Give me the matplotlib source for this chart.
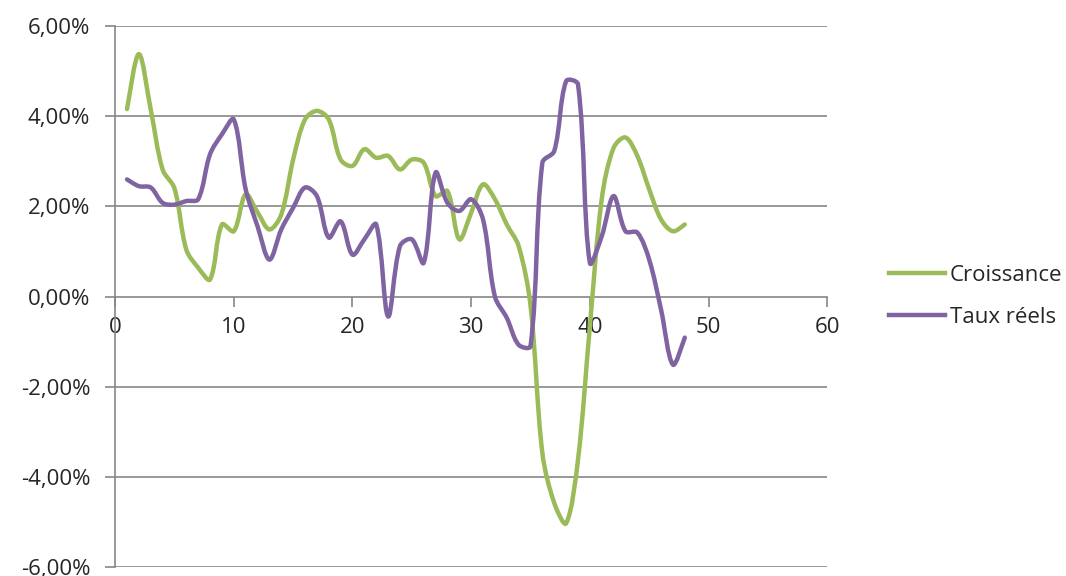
import matplotlib

matplotlib.use("Agg")
import matplotlib.pyplot as plt
import numpy as np
from matplotlib.path import Path
from matplotlib.patches import PathPatch
from matplotlib.lines import Line2D
from matplotlib.ticker import FuncFormatter

periods = list(range(1, 49))
croissance = [4.16, 5.38, 4.15, 2.82, 2.40, 1.04, 0.64, 0.38, 1.60, 1.45,
              2.27, 1.87, 1.49, 1.82, 3.04, 3.93, 4.12, 3.93, 3.04, 2.90,
              3.27, 3.08, 3.12, 2.82, 3.04, 2.97, 2.23, 2.34, 1.27, 1.86,
              2.49, 2.16, 1.60, 1.12, -0.20, -3.47, -4.58, -5.03, -3.62, -0.66,
              2.16, 3.30, 3.53, 3.12, 2.38, 1.71, 1.45, 1.60]
taux_reels = [2.60, 2.45, 2.42, 2.08, 2.04, 2.12, 2.16, 3.16, 3.60, 3.93,
              2.38, 1.56, 0.82, 1.49, 1.97, 2.42, 2.23, 1.31, 1.67, 0.93,
              1.27, 1.60, -0.44, 1.12, 1.27, 0.75, 2.75, 2.08, 1.90, 2.16,
              1.71, 0.00, -0.47, -1.07, -1.10, 2.97, 3.23, 4.78, 4.71, 0.75,
              1.34, 2.23, 1.45, 1.42, 0.82, -0.29, -1.51, -0.91]
series_names = ["Croissance", "Taux réels"]
series_colors = ["#9BBB59", "#8064A2"]

x_ticks = [0, 10, 20, 30, 40, 50, 60]
y_ticks = [-6, -4, -2, 0, 2, 4, 6]
XLIM = (0, 60)
YLIM = (-6, 6)

plt.rcParams["font.family"] = ["Open Sans", "DejaVu Sans"]
GRID = "#868686"
TEXT = "#262626"

FIG_W, FIG_H = 10.66, 5.76
AX_RECT = [0.108, 0.0156, 0.668, 0.939]


def smooth_path(xs, ys, sx, sy):
    """Excel-like smoothed line: cubic Beziers whose handles are scaled by
    the neighbouring segment lengths (measured on screen), so steep jumps
    do not overshoot."""
    pts = np.column_stack([xs, ys]).astype(float)
    scr = pts * [sx, sy]
    n = len(pts)

    def dist(i, j):
        return float(np.hypot(*(scr[j] - scr[i])))

    verts = [pts[0]]
    codes = [Path.MOVETO]
    for i in range(n - 1):
        i0 = max(i - 1, 0)
        i3 = min(i + 2, n - 1)
        d01 = dist(i0, i)
        d12 = dist(i, i + 1)
        d23 = dist(i + 1, i3)
        f1 = d12 / (d01 + d12) if d01 > 0 else 0.5
        f2 = d12 / (d12 + d23) if d23 > 0 else 0.5
        c1 = pts[i] + (pts[i + 1] - pts[i0]) * f1 / 3.0
        c2 = pts[i + 1] - (pts[i3] - pts[i]) * f2 / 3.0
        verts += [c1, c2, pts[i + 1]]
        codes += [Path.CURVE4] * 3
    return Path(verts, codes)


fig = plt.figure(figsize=(FIG_W, FIG_H), dpi=100)
ax = fig.add_axes(AX_RECT)

# screen pixels per data unit, for the smoothing
sx = AX_RECT[2] * FIG_W * 100 / (XLIM[1] - XLIM[0])
sy = AX_RECT[3] * FIG_H * 100 / (YLIM[1] - YLIM[0])

for vals, color in zip([croissance, taux_reels], series_colors):
    patch = PathPatch(smooth_path(periods, vals, sx, sy), facecolor="none",
                      edgecolor=color, lw=3.2, capstyle="round",
                      joinstyle="round", zorder=3)
    ax.add_patch(patch)

ax.set_xlim(*XLIM)
ax.set_ylim(*YLIM)
ax.set_xticks(x_ticks)
ax.set_yticks(y_ticks)
ax.yaxis.set_major_formatter(FuncFormatter(lambda v, _: f"{v:.2f}%".replace(".", ",")))

for y in y_ticks:
    if y != 0:
        ax.axhline(y, color=GRID, lw=1.2, zorder=1)

ax.spines["top"].set_visible(False)
ax.spines["right"].set_visible(False)
ax.spines["bottom"].set_position(("data", 0))
for side in ("bottom", "left"):
    ax.spines[side].set_color(GRID)
    ax.spines[side].set_linewidth(1.2)
ax.tick_params(axis="both", colors=GRID, labelcolor=TEXT,
               labelsize=16, length=7, width=1.2)
ax.tick_params(axis="y", pad=11)
ax.tick_params(axis="x", pad=8)
ax.patch.set_visible(False)

handles = [Line2D([0], [0], color=c, lw=3.2) for c in series_colors]
fig.legend(handles, series_names, loc="center left",
           bbox_to_anchor=(0.815, 0.486), frameon=False, fontsize=16,
           handlelength=2.55, handletextpad=0.2, labelspacing=0.95,
           labelcolor=TEXT)

fig.savefig("out.png", dpi=100)
